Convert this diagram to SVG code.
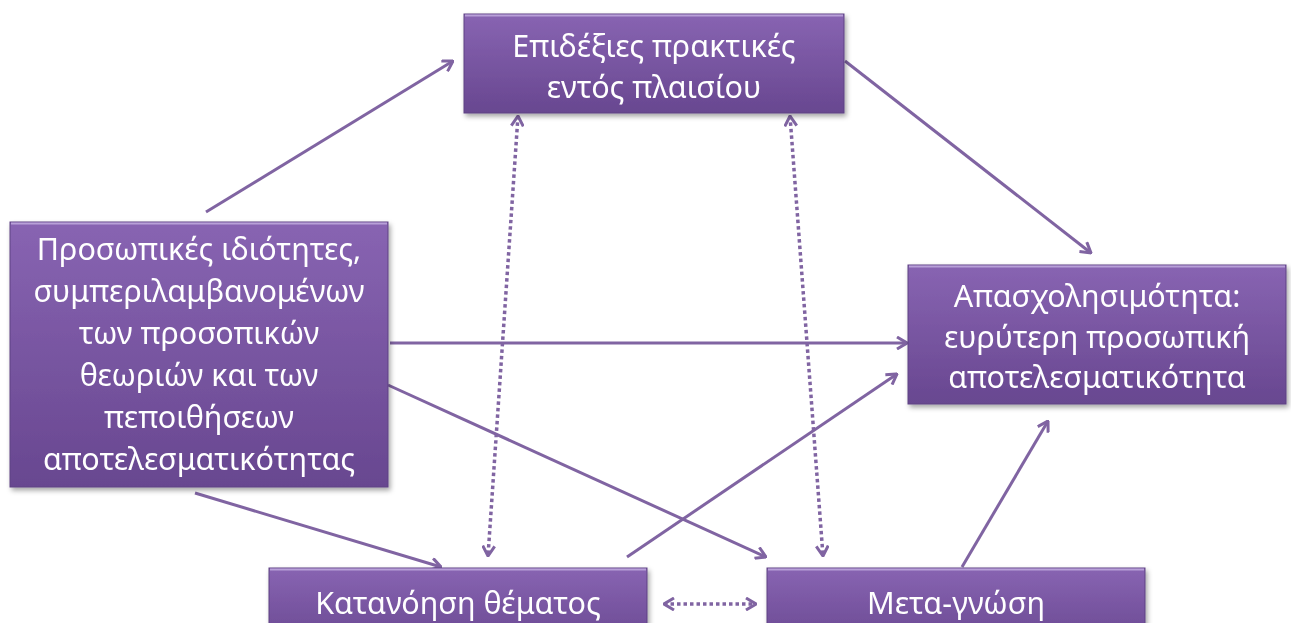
<svg xmlns="http://www.w3.org/2000/svg" width="1291" height="623" viewBox="0 0 1291 623">
<defs>
<style>
.box{fill:url(#g);stroke:#5e4283;stroke-width:1}
.bevel{fill:none;stroke:#b8a0d8;stroke-width:2}
.t{font-family:"Noto Sans","Open Sans","DejaVu Sans",sans-serif;font-size:30.5px;fill:#ffffff;text-anchor:middle}
.c{fill:none;stroke:#8064a2;stroke-width:3}
.s{marker-end:url(#a)}
.d{stroke-width:3.5;stroke-dasharray:3.5 3;marker-start:url(#a);marker-end:url(#a)}
</style>
<linearGradient id="g" x1="0" y1="0" x2="0" y2="1">
<stop offset="0" stop-color="#8864b2"/>
<stop offset="1" stop-color="#684790"/>
</linearGradient>
<filter id="sh" x="-10%" y="-10%" width="120%" height="130%">
<feDropShadow dx="2" dy="3" stdDeviation="2.5" flood-color="#000" flood-opacity="0.35"/>
</filter>
<marker id="a" viewBox="0 0 12 14" refX="11" refY="7" markerWidth="12" markerHeight="14" markerUnits="userSpaceOnUse" orient="auto-start-reverse">
<path d="M1,1 L11,7 L1,13" fill="none" stroke="#8064a2" stroke-width="3" stroke-linejoin="miter"/>
</marker>
</defs>
<rect width="1291" height="623" fill="#ffffff"/>

<g id="connectors">
<line class="c s" x1="206" y1="212" x2="453" y2="61"/>
<line class="c s" x1="845" y1="61" x2="1091" y2="253"/>
<line class="c s" x1="390" y1="343" x2="907" y2="343"/>
<line class="c s" x1="388" y1="385" x2="766" y2="557"/>
<line class="c s" x1="195" y1="493" x2="441" y2="567"/>
<line class="c s" x1="627" y1="557" x2="897" y2="374"/>
<line class="c s" x1="962" y1="567" x2="1048" y2="421"/>
<line class="c d" x1="518" y1="116" x2="488" y2="556"/>
<line class="c d" x1="790" y1="116" x2="823" y2="556"/>
<line class="c d" x1="664" y1="604" x2="756" y2="604"/>
</g>

<g id="n-top" filter="url(#sh)">
<rect class="box" x="464" y="14" width="380" height="99"/>
<line class="bevel" x1="465" y1="15.5" x2="843" y2="15.5"/>
<text class="t" x="654" y="57">Επιδέξιες πρακτικές</text>
<text class="t" x="654" y="98">εντός πλαισίου</text>
</g>

<g id="n-left" filter="url(#sh)">
<rect class="box" x="10" y="222" width="378" height="265"/>
<line class="bevel" x1="11" y1="223.5" x2="387" y2="223.5"/>
<text class="t" x="199" y="260">Προσωπικές ιδιότητες,</text>
<text class="t" x="199" y="302">συμπεριλαμβανομένων</text>
<text class="t" x="199" y="344">των προσοπικών</text>
<text class="t" x="199" y="386">θεωριών και των</text>
<text class="t" x="199" y="428">πεποιθήσεων</text>
<text class="t" x="199" y="470">αποτελεσματικότητας</text>
</g>

<g id="n-right" filter="url(#sh)">
<rect class="box" x="908" y="265" width="378" height="139"/>
<line class="bevel" x1="909" y1="266.5" x2="1285" y2="266.5"/>
<text class="t" x="1097" y="307">Απασχολησιμότητα:</text>
<text class="t" x="1097" y="348">ευρύτερη προσωπική</text>
<text class="t" x="1097" y="388">αποτελεσματικότητα</text>
</g>

<g id="n-understanding" filter="url(#sh)">
<rect class="box" x="269" y="568" width="378" height="80"/>
<line class="bevel" x1="270" y1="569.5" x2="646" y2="569.5"/>
<text class="t" x="458" y="614">Κατανόηση θέματος</text>
</g>

<g id="n-meta" filter="url(#sh)">
<rect class="box" x="767" y="568" width="378" height="80"/>
<line class="bevel" x1="768" y1="569.5" x2="1144" y2="569.5"/>
<text class="t" x="956" y="614">Μετα-γνώση</text>
</g>
</svg>
